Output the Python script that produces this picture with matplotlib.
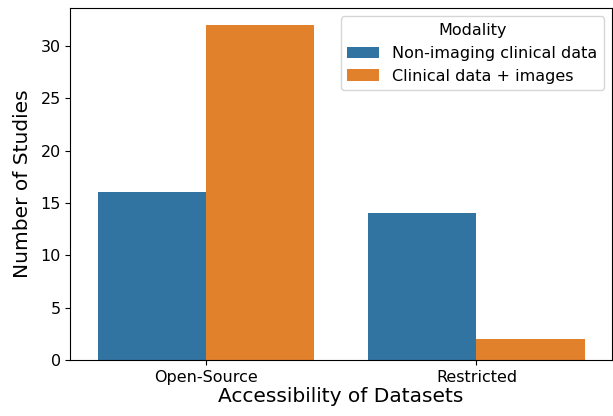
import matplotlib
matplotlib.use("Agg")
import matplotlib.pyplot as plt
import pandas as pd
import seaborn as sns

# Study counts by dataset accessibility and modality
accessibility = ["Open-Source", "Open-Source", "Restricted", "Restricted"]
modality = ["Non-imaging clinical data", "Clinical data + images",
            "Non-imaging clinical data", "Clinical data + images"]
counts = [16, 32, 14, 2]

df = pd.DataFrame({"Accessibility": accessibility,
                   "Modality": modality,
                   "Count": counts})

fig, ax = plt.subplots(figsize=(6.13, 4.16), dpi=100)
sns.barplot(data=df, x="Accessibility", y="Count", hue="Modality", ax=ax)

ax.set_xlabel("Accessibility of Datasets", fontsize=14.5, labelpad=2)
ax.set_ylabel("Number of Studies", fontsize=14.5, labelpad=6)
ax.tick_params(labelsize=11.5)
ax.legend(title="Modality", fontsize=11.5, title_fontsize=11.5, loc="upper right")

fig.subplots_adjust(left=0.115, right=0.998, top=0.98, bottom=0.135)
fig.savefig("out.png", dpi=100)
